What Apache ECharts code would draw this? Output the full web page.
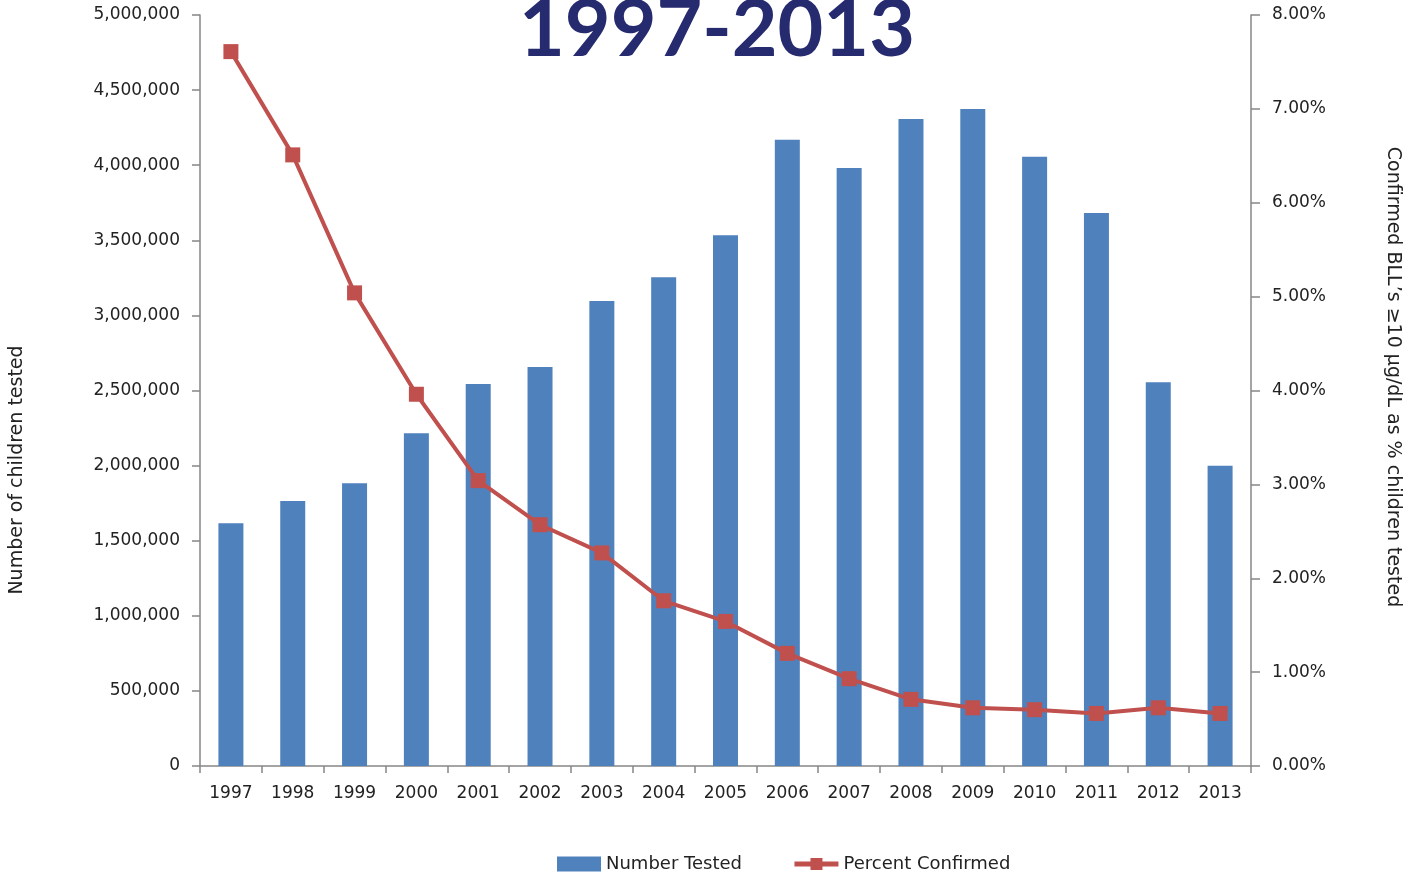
<!DOCTYPE html>
<html>
<head>
<meta charset="utf-8">
<title>Children tested and confirmed elevated BLLs, 1997-2013</title>
<script src="https://cdn.jsdelivr.net/npm/echarts@6/dist/echarts.min.js"></script>
<style>
  html, body { margin: 0; padding: 0; background: #ffffff; }
  #chart { width: 1411px; height: 878px; }
</style>
</head>
<body>
<div id="chart"></div>
<script>
// Years on the category axis
const years = ['1997', '1998', '1999', '2000', '2001', '2002', '2003', '2004', '2005',
               '2006', '2007', '2008', '2009', '2010', '2011', '2012', '2013'];

// Number of children tested (left axis)
const numberTested = [1616000, 1764000, 1882000, 2215000, 2543000, 2656000, 3096000, 3254000, 3533000,
                      4170000, 3981000, 4308000, 4374000, 4057000, 3682000, 2555000, 1999000];

// Confirmed BLLs >=10 ug/dL as percent of children tested (right axis)
const percentConfirmed = [7.61, 6.51, 5.04, 3.96, 3.04, 2.57, 2.27, 1.76, 1.54,
                          1.20, 0.93, 0.71, 0.62, 0.60, 0.56, 0.62, 0.56];

// Text
const titleText = '1997-2013';
const leftAxisName = 'Number of children tested';
const rightAxisName = 'Confirmed BLL\u2019s \u226510 \u00b5g/dL as % children tested';
const seriesNames = ['Number Tested', 'Percent Confirmed'];

const FONT = 'DejaVu Sans';
const AXIS_GREY = '#868686';
const TEXT_COLOR = '#222222';
const BAR_COLOR = '#4f81bd';
const LINE_COLOR = '#c0504d';

const chart = echarts.init(document.getElementById('chart'), null, { renderer: 'canvas' });

function withCommas(v) {
  return String(v).replace(/\B(?=(\d{3})+(?!\d))/g, ',');
}

chart.setOption({
  animation: false,
  backgroundColor: '#ffffff',
  grid: { left: 200, right: 160, top: 15, bottom: 112, containLabel: false },
  graphic: [
    {
      type: 'text', x: 717, y: 31,
      style: {
        text: titleText, fill: '#262a6e',
        font: 'bold 79px Lato',
        textAlign: 'center', textVerticalAlign: 'middle'
      }
    },
    {
      type: 'text', x: 17, y: 470, rotation: Math.PI / 2,
      style: {
        text: leftAxisName, fill: TEXT_COLOR,
        font: '19px "' + FONT + '"',
        textAlign: 'center', textVerticalAlign: 'middle'
      }
    },
    {
      type: 'text', x: 1393, y: 377, rotation: -Math.PI / 2,
      style: {
        text: rightAxisName, fill: TEXT_COLOR,
        font: '19px "' + FONT + '"',
        textAlign: 'center', textVerticalAlign: 'middle'
      }
    }
  ],
  legend: {
    top: 850,
    left: 552,
    itemGap: 50,
    itemWidth: 44,
    itemHeight: 15,
    textStyle: { fontFamily: FONT, fontSize: 18, color: TEXT_COLOR },
    data: [
      { name: seriesNames[0], icon: 'rect' },
      { name: seriesNames[1], lineStyle: { width: 5 } }
    ]
  },
  xAxis: {
    type: 'category',
    data: years,
    boundaryGap: true,
    axisLine: { lineStyle: { color: AXIS_GREY, width: 1.5 } },
    axisTick: { show: true, alignWithLabel: false, length: 7, lineStyle: { color: AXIS_GREY, width: 1.5 } },
    axisLabel: { fontFamily: FONT, fontSize: 17, color: TEXT_COLOR, margin: 19, interval: 0 },
    splitLine: { show: false }
  },
  yAxis: [
    {
      type: 'value',
      position: 'left',
      min: 0, max: 5000000, interval: 500000,
      axisLine: { show: true, lineStyle: { color: AXIS_GREY, width: 1.5 } },
      axisTick: { show: true, length: 8, lineStyle: { color: AXIS_GREY, width: 1.5 } },
      axisLabel: { fontFamily: FONT, fontSize: 17, color: TEXT_COLOR, margin: 20, formatter: withCommas },
      splitLine: { show: false }
    },
    {
      type: 'value',
      position: 'right',
      min: 0, max: 8, interval: 1,
      axisLine: { show: true, lineStyle: { color: AXIS_GREY, width: 1.5 } },
      axisTick: { show: true, length: 9, lineStyle: { color: AXIS_GREY, width: 1.5 } },
      axisLabel: {
        fontFamily: FONT, fontSize: 17, color: TEXT_COLOR, margin: 21,
        formatter: v => v.toFixed(2) + '%'
      },
      splitLine: { show: false }
    }
  ],
  series: [
    {
      name: seriesNames[0],
      type: 'bar',
      yAxisIndex: 0,
      data: numberTested,
      barWidth: 25,
      itemStyle: { color: BAR_COLOR }
    },
    {
      name: seriesNames[1],
      type: 'line',
      yAxisIndex: 1,
      data: percentConfirmed,
      symbol: 'rect',
      symbolSize: 15,
      lineStyle: { color: LINE_COLOR, width: 4 },
      itemStyle: { color: LINE_COLOR },
      z: 5
    }
  ]
});
</script>
</body>
</html>
